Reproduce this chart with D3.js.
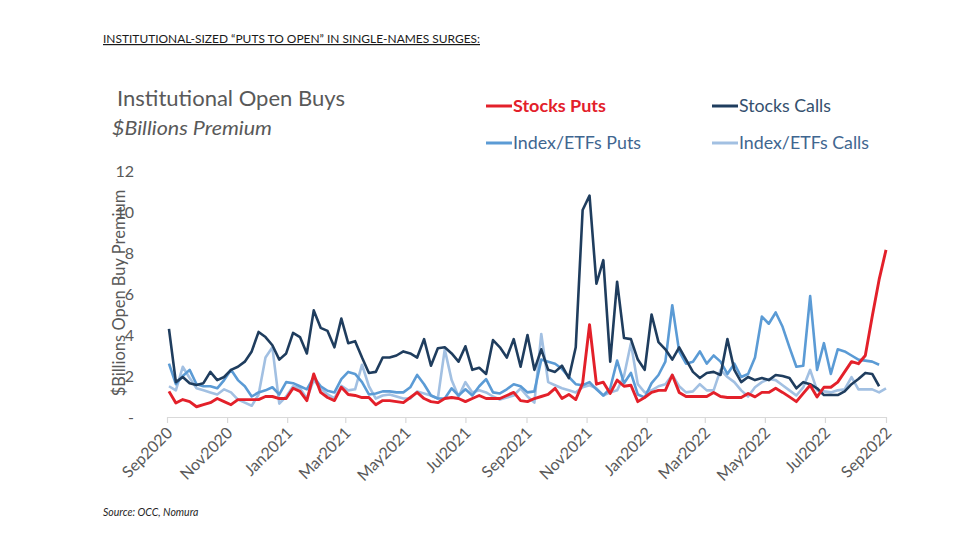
<!DOCTYPE html>
<html>
<head>
<meta charset="utf-8">
<script src="https://cdn.jsdelivr.net/npm/d3@7"></script>
<style>
  body { margin: 0; background: #fff; }
  text { font-family: Lato, "Open Sans", sans-serif; }
</style>
</head>
<body>
<svg id="chart" width="976" height="550"></svg>
<script>
// weekly observations, first week and count
const firstWeek = "2020-09-03";
const weekCount = 105;

// x axis tick months
const tickMonths = ["2020-09","2020-11","2021-01","2021-03","2021-05","2021-07","2021-09",
                    "2021-11","2022-01","2022-03","2022-05","2022-07","2022-09"];
const yTicks = [0, 2, 4, 6, 8, 10, 12];

const seriesNames = ["Index/ETFs Calls", "Index/ETFs Puts", "Stocks Calls", "Stocks Puts"];

const stocksPuts = [
  1.25, 0.68, 0.85, 0.75, 0.5, 0.6, 0.7, 0.9, 0.75, 0.6,
  0.85, 0.85, 0.85, 0.85, 1.0, 1.0, 0.9, 0.9, 1.4, 1.25,
  0.8, 2.1, 1.2, 0.95, 0.8, 1.45, 1.1, 1.05, 0.95, 0.95,
  0.6, 0.8, 0.8, 0.75, 0.7, 0.95, 1.2, 0.9, 0.75, 0.7,
  0.9, 0.95, 0.9, 0.75, 0.9, 1.05, 0.9, 0.9, 0.9, 1.05,
  1.2, 0.8, 0.75, 0.9, 1.0, 1.1, 1.4, 0.9, 1.1, 0.85,
  1.65, 4.5, 1.6, 1.7, 1.15, 1.8, 1.5, 1.55, 0.75, 0.95,
  1.2, 1.3, 1.3, 2.05, 1.2, 1.0, 1.0, 1.0, 1.0, 1.2,
  1.0, 0.95, 0.95, 0.95, 1.15, 0.98, 1.2, 1.2, 1.4, 1.2,
  0.98, 0.75, 1.15, 1.55, 0.98, 1.45, 1.45, 1.7, 2.2, 2.7,
  2.6, 3.0, 4.9, 6.7, 8.15
];

const stocksCalls = [
  4.3, 1.7, 1.95, 1.65, 1.56, 1.65, 2.2, 1.8, 1.95, 2.3,
  2.45, 2.7, 3.2, 4.15, 3.9, 3.5, 2.8, 3.1, 4.1, 3.9,
  3.1, 5.2, 4.35, 4.2, 3.4, 4.8, 3.6, 3.7, 2.9, 2.15,
  2.2, 2.9, 2.9, 3.0, 3.2, 3.1, 2.9, 3.8, 2.5, 3.35,
  3.4, 3.1, 2.7, 3.45, 2.3, 2.4, 2.1, 3.75, 3.4, 2.9,
  3.8, 2.45, 4.0, 2.3, 3.3, 2.3, 2.2, 2.5, 1.9, 3.4,
  10.1, 10.8, 6.5, 7.65, 2.7, 6.6, 3.85, 3.8, 2.8, 2.3,
  5.0, 3.65, 3.3, 2.8, 3.4, 2.8, 2.2, 1.9, 2.15, 2.2,
  2.05, 3.8, 2.3, 1.7, 1.95, 1.8, 1.9, 1.8, 2.05, 2.0,
  1.9, 1.4, 1.7, 1.6, 1.4, 1.07, 1.07, 1.07, 1.25, 1.6,
  1.85, 2.15, 2.1, 1.5, null
];

const indexPuts = [
  2.6, 1.6, 2.0, 2.3, 1.6, 1.5, 1.5, 1.4, 1.8, 2.3,
  1.8, 1.5, 1.0, 1.2, 1.3, 1.45, 1.1, 1.7, 1.65, 1.5,
  1.35, 1.95, 1.5, 1.28, 1.2, 1.85, 2.2, 2.1, 1.7, 1.1,
  1.15, 1.25, 1.25, 1.2, 1.2, 1.45, 2.05, 1.6, 1.05, 0.9,
  0.9, 1.4, 1.05, 1.35, 1.05, 1.5, 1.85, 1.2, 1.15, 1.35,
  1.6, 1.5, 1.2, 1.25, 2.8, 2.7, 2.6, 2.35, 1.95, 1.6,
  1.55, 1.7, 1.35, 1.05, 1.4, 2.75, 1.65, 2.15, 1.1, 0.95,
  1.65, 2.05, 2.7, 5.45, 3.2, 2.6, 2.7, 3.2, 2.6, 3.0,
  2.7, 2.1, 2.6, 1.95, 2.1, 2.9, 4.9, 4.55, 5.1, 4.4,
  3.4, 2.45, 2.5, 5.9, 2.3, 3.6, 2.1, 3.3, 3.2, 3.0,
  2.8, 2.75, 2.7, 2.55, null
];

const indexCalls = [
  1.5, 1.3, 2.45, 1.9, 1.4, 1.3, 1.2, 1.1, 1.35, 1.2,
  0.85, 0.7, 0.55, 1.1, 2.9, 3.4, 0.65, 1.0, 1.5, 1.4,
  0.9, 1.8, 1.4, 1.1, 0.92, 1.52, 1.3, 1.35, 2.55, 1.5,
  0.9, 1.05, 1.1, 1.0, 0.9, 0.9, 1.25, 1.15, 1.05, 0.9,
  3.3, 1.8, 1.0, 1.7, 1.2, 1.3, 1.2, 1.0, 0.85, 0.95,
  1.05, 1.4, 1.0, 0.7, 4.05, 1.7, 1.55, 1.4, 1.3, 1.2,
  1.45, 1.55, 1.4, 1.05, 1.2, 1.3, 2.0, 3.6, 1.6, 1.2,
  1.3, 1.5, 1.6, 2.05, 1.5, 1.2, 1.25, 1.6, 1.3, 1.3,
  2.3, 1.95, 1.7, 1.3, 1.0, 1.45, 1.7, 1.85, 1.8, 1.55,
  1.3, 1.05, 1.45, 2.3, 1.3, 1.25, 1.2, 1.3, 1.35, 1.95,
  1.35, 1.35, 1.35, 1.2, 1.4
];

const seriesValues = [indexCalls, indexPuts, stocksCalls, stocksPuts];
const seriesColors = ["#a2c0e2", "#5b9bd5", "#1f3d5e", "#e3202a"];

const svg = d3.select("#chart");
const gray = "#595959";

const parseDay = d3.utcParse("%Y-%m-%d");
const parseMonth = d3.utcParse("%Y-%m");
const weeks = d3.range(weekCount).map(i => d3.utcDay.offset(parseDay(firstWeek), 7 * i));

const x = d3.scaleUtc()
  .domain([parseMonth("2020-09"), parseMonth("2022-09")])
  .range([167, 886]);
const y = d3.scaleLinear().domain([0, 12]).range([417, 171]);

// header
svg.append("text")
  .attr("x", 103).attr("y", 43)
  .attr("font-size", 12)
  .attr("fill", "#1a1a1a")
  .attr("text-decoration", "underline")
  .attr("textLength", 377).attr("lengthAdjust", "spacingAndGlyphs")
  .text("INSTITUTIONAL-SIZED \u201CPUTS TO OPEN\u201D IN SINGLE-NAMES SURGES:");

svg.append("text")
  .attr("x", 117).attr("y", 106)
  .attr("font-size", 21.5).attr("fill", gray)
  .attr("textLength", 228).attr("lengthAdjust", "spacingAndGlyphs")
  .text("Institutional Open Buys");
svg.append("text")
  .attr("x", 112).attr("y", 135)
  .attr("font-size", 20).attr("font-style", "italic").attr("fill", gray)
  .attr("textLength", 160).attr("lengthAdjust", "spacingAndGlyphs")
  .text("$Billions Premium");

// legend
const legendPos = [[712, 143], [486, 143], [712, 106], [486, 106]];
const legendWidth = [130, 128, 92, 93];
const legendText = ["#3f6690", "#3f6690", "#34506e", "#e3202a"];
seriesNames.forEach((name, i) => {
  let [lx, ly] = legendPos[i];
  svg.append("line")
    .attr("x1", lx).attr("x2", lx + 26).attr("y1", ly).attr("y2", ly)
    .attr("stroke", seriesColors[i]).attr("stroke-width", 3);
  svg.append("text")
    .attr("x", lx + 27).attr("y", ly + 6)
    .attr("font-size", 17)
    .attr("font-weight", i == 3 ? "bold" : "normal")
    .attr("fill", legendText[i])
    .attr("textLength", legendWidth[i]).attr("lengthAdjust", "spacingAndGlyphs")
    .text(name);
});

// y axis
let yAxis = svg.append("g")
  .attr("transform", "translate(134,0)")
  .call(d3.axisLeft(y).tickValues(yTicks).tickSize(0).tickPadding(0)
        .tickFormat(d => d == 0 ? "-" : d));
yAxis.select(".domain").remove();
yAxis.selectAll("text").attr("font-size", 16).attr("fill", gray)
  .attr("font-family", "Lato, sans-serif");

svg.append("text")
  .attr("transform", "translate(125,293) rotate(-90)")
  .attr("text-anchor", "middle")
  .attr("font-size", 16.5).attr("fill", gray)
  .text("$Billions Open Buy Premium");

// x axis
let xAxis = svg.append("g")
  .attr("transform", "translate(0,417)")
  .call(d3.axisBottom(x).tickValues(tickMonths.map(parseMonth))
        .tickSize(6).tickSizeOuter(0).tickFormat(d3.utcFormat("%b%Y")));
xAxis.select(".domain").attr("stroke", "#d9d9d9").attr("stroke-width", 1.2);
xAxis.selectAll(".tick line").attr("stroke", "#d9d9d9").attr("stroke-width", 1.2);
xAxis.selectAll("text")
  .attr("x", 0).attr("y", 0).attr("dy", 0)
  .attr("text-anchor", "end")
  .attr("transform", "translate(6,17) rotate(-45)")
  .attr("font-size", 16).attr("fill", gray)
  .attr("font-family", "Lato, sans-serif");

// lines
const line = d3.line()
  .defined(d => d.v != null)
  .x(d => x(d.date))
  .y(d => y(d.v));

seriesValues.forEach((vals, i) => {
  let pts = weeks.map((date, j) => ({date: date, v: vals[j]}));
  svg.append("path")
    .datum(pts)
    .attr("d", line)
    .attr("fill", "none")
    .attr("stroke", seriesColors[i])
    .attr("stroke-width", i == 3 ? 2.9 : 2.6)
    .attr("stroke-linejoin", "round");
});

// source
svg.append("text")
  .attr("x", 103).attr("y", 516)
  .attr("font-size", 10.5).attr("font-style", "italic").attr("fill", "#262626")
  .text("Source: OCC, Nomura");
</script>
</body>
</html>
